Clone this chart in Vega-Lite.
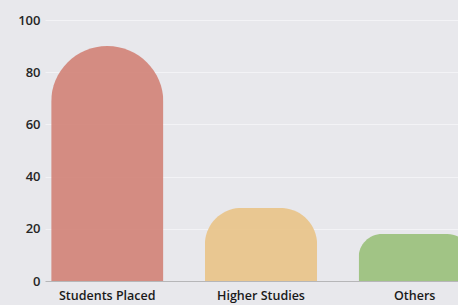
{
  "$schema": "https://vega.github.io/schema/vega-lite/v6.json",
  "width": 432,
  "height": 261,
  "autosize": "none",
  "padding": {"left": 45, "top": 20, "right": 0, "bottom": 24},
  "background": "#e8e8ec",
  "data": {"values": [
    {"category": "Students Placed", "value": 90},
    {"category": "Higher Studies", "value": 28},
    {"category": "Others", "value": 18}
  ]},
  "mark": {"type": "bar", "cornerRadiusTopLeft": 56, "cornerRadiusTopRight": 56, "opacity": 0.95},
  "encoding": {
    "x": {
      "field": "category", "type": "nominal", "sort": null,
      "scale": {"paddingInner": 0.27, "paddingOuter": 0.04},
      "axis": {"title": null, "labelAngle": 0, "ticks": false, "domain": true, "domainColor": "#7a7a7a", "domainOpacity": 0.5,
        "labelFont": "Open Sans", "labelFontSize": 12.5, "labelFontWeight": 600, "labelColor": "#1a1a1a", "labelPadding": 8}
    },
    "y": {
      "field": "value", "type": "quantitative",
      "scale": {"domain": [0, 100]},
      "axis": {"title": null, "values": [0, 20, 40, 60, 80, 100], "ticks": false, "domain": false,
        "grid": true, "gridColor": "#f3f3f6", "gridWidth": 1,
        "labelFont": "Open Sans", "labelFontSize": 13, "labelFontWeight": 600, "labelColor": "#262626", "labelPadding": 5}
    },
    "color": {
      "field": "category", "type": "nominal", "sort": null,
      "scale": {"domain": ["Students Placed", "Higher Studies", "Others"], "range": ["#d3877c", "#e9c58c", "#9dc27f"]},
      "legend": null
    }
  },
  "config": {"view": {"stroke": null}}
}
